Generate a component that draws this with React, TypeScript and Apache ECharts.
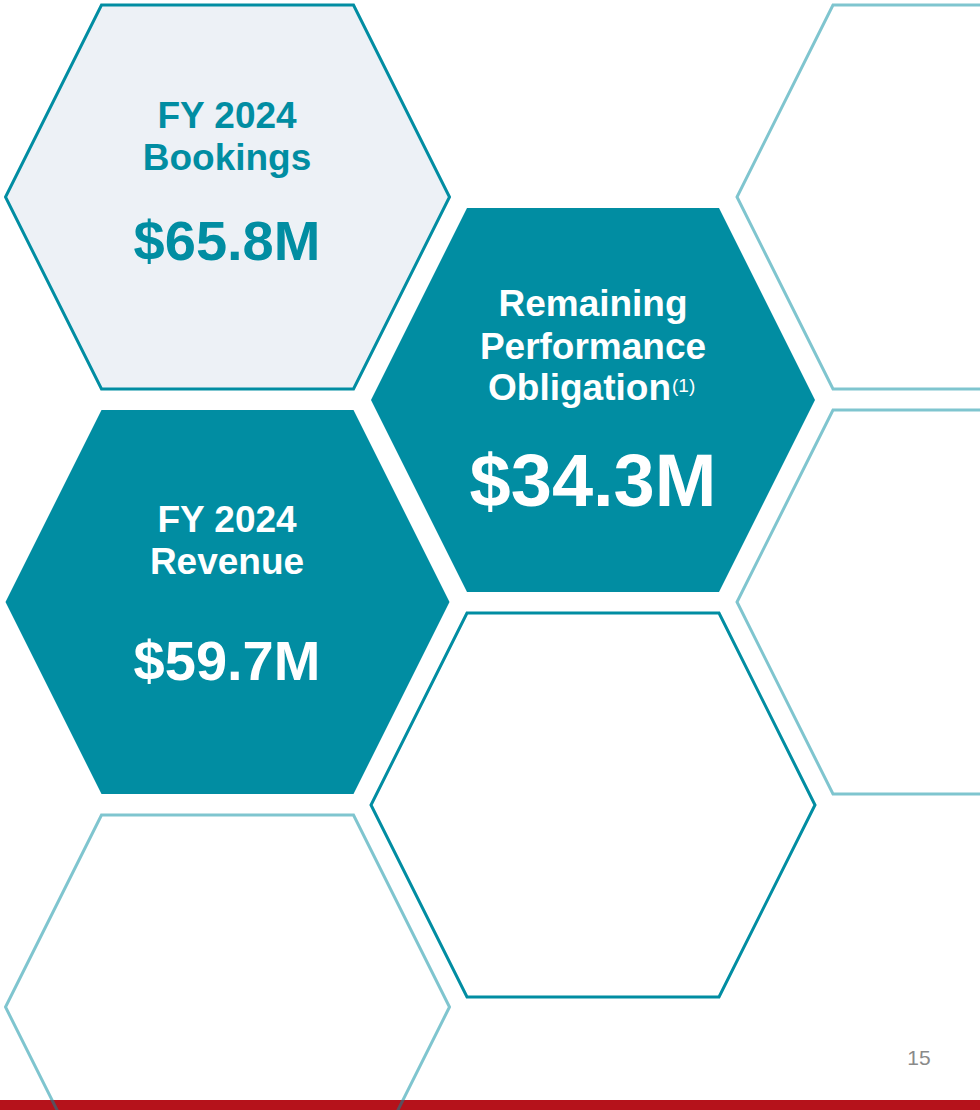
import React, { useEffect, useRef } from "react";
import * as echarts from "echarts";

// ---- data ----
const titles: string[][] = [
  ["FY 2024", "Bookings"],
  ["Remaining", "Performance", "Obligation"],
  ["FY 2024", "Revenue"],
];
const values: string[] = ["$65.8M", "$34.3M", "$59.7M"];
const footnote = "(1)";
const pageNumber = "15";

const TEAL = "#018DA2";
const LIGHT_FILL = "#EDF1F6";
const LIGHT_STROKE = "rgba(0,140,160,0.5)";
const RED = "#B5121B";
const FONT = "'Liberation Sans', Arial, Helvetica, sans-serif";

const HALF_W = 222;
const HALF_TOP = 126;
const HALF_H = 192;

function hexPoints(cx: number, cy: number): number[][] {
  return [
    [cx - HALF_TOP, cy - HALF_H],
    [cx + HALF_TOP, cy - HALF_H],
    [cx + HALF_W, cy],
    [cx + HALF_TOP, cy + HALF_H],
    [cx - HALF_TOP, cy + HALF_H],
    [cx - HALF_W, cy],
  ];
}

function hex(cx: number, cy: number, kind: "filled" | "light" | "outline" | "pale") {
  const style: any = {};
  if (kind === "filled") {
    style.fill = TEAL;
  } else if (kind === "pale") {
    style.fill = LIGHT_FILL;
    style.stroke = TEAL;
    style.lineWidth = 3;
  } else if (kind === "outline") {
    style.fill = "none";
    style.stroke = TEAL;
    style.lineWidth = 3;
  } else {
    style.fill = "none";
    style.stroke = LIGHT_STROKE;
    style.lineWidth = 3;
  }
  style.lineJoin = "miter";
  return { type: "polygon", shape: { points: hexPoints(cx, cy) }, style };
}

function txt(text: string, x: number, y: number, size: number, color: string, align = "center", weight = "bold") {
  return {
    type: "text",
    x,
    y,
    style: {
      text,
      fill: color,
      font: `${weight} ${size}px ${FONT}`,
      textAlign: align,
      textVerticalAlign: "middle",
    },
  };
}

export default function App() {
  const ref = useRef<HTMLDivElement>(null);
  useEffect(() => {
    if (!ref.current) return;
    const chart = echarts.init(ref.current, undefined, { renderer: "svg" });
    const elements: any[] = [];
    elements.push({ type: "rect", shape: { x: 0, y: 1100, width: 980, height: 10 }, style: { fill: RED } });
    // hexagons
    elements.push(hex(227.5, 197, "pale"));
    elements.push(hex(227.5, 602, "filled"));
    elements.push(hex(227.5, 1007, "light"));
    elements.push(hex(593, 400, "filled"));
    elements.push(hex(593, 805, "outline"));
    elements.push(hex(959, 197, "light"));
    elements.push(hex(959, 602, "light"));

    // Bookings
    elements.push(txt(titles[0][0], 227, 115, 37, TEAL));
    elements.push(txt(titles[0][1], 227, 157, 37, TEAL));
    elements.push(txt(values[0], 227, 240, 56, TEAL));
    // RPO
    elements.push(txt(titles[1][0], 593, 303, 37, "#ffffff"));
    elements.push(txt(titles[1][1], 593, 346, 37, "#ffffff"));
    elements.push(txt(titles[1][2], 671, 387, 37, "#ffffff", "right"));
    elements.push(txt(footnote, 672, 385, 19, "#ffffff", "left", "normal"));
    elements.push(txt(values[1], 593, 480, 74, "#ffffff"));
    // Revenue
    elements.push(txt(titles[2][0], 227, 519, 37, "#ffffff"));
    elements.push(txt(titles[2][1], 227, 561, 37, "#ffffff"));
    elements.push(txt(values[2], 227, 660, 56, "#ffffff"));
    // page number
    elements.push(txt(pageNumber, 919, 1057, 21, "#8a8a8a", "center", "normal"));

    chart.setOption({
      animation: false,
      backgroundColor: "#ffffff",
      graphic: { elements },
    });
    return () => chart.dispose();
  }, []);
  return (
    <div
      ref={ref}
      style={{ position: "absolute", left: 0, top: 0, width: 980, height: 1110 }}
    />
  );
}
